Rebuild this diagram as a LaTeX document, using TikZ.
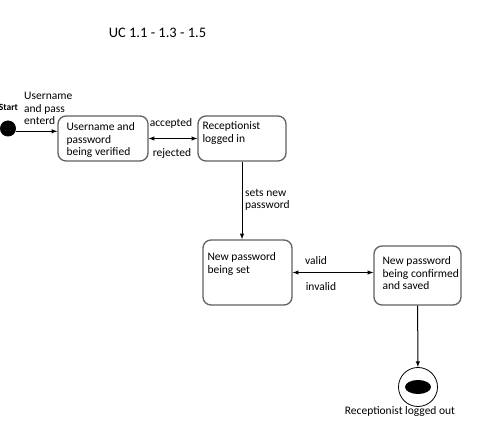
\documentclass[tikz,border=0pt]{standalone}
\usepackage{fontspec}
\setmainfont{Carlito}
\definecolor{BoxGrey}{gray}{0.38}
\usetikzlibrary{arrows,positioning,calc}

\begin{document}
\begin{tikzpicture}[x=1pt,y=1pt,>=latex,
		state/.style={draw=BoxGrey,line width=1.3pt,rounded corners=8pt,inner sep=0pt},
		txt/.style={font=\fontsize{11.5}{12.5}\selectfont,align=left,inner sep=0pt},
		trans/.style={->,line width=1pt}
	]
	\useasboundingbox (0,0) rectangle (491,-428);

	\node[font=\fontsize{14.5}{16}\selectfont] (title) at (157.5,-33) {UC 1.1 - 1.3 - 1.5};

	% start state
	\node[circle,fill=black,minimum size=16pt,inner sep=0pt] (start) at (8,-128.5) {};
	\node[font=\bfseries\fontsize{9.5}{10}\selectfont,inner sep=0pt] (startlbl) at (8.5,-107) {Start};
	\node[txt,anchor=north west] (enterd) at (24,-92) {Username\\and pass\\enterd};

	% states
	\node[state,minimum width=90pt,minimum height=45pt] (verify) at (103,-138.5) {};
	\node[txt,anchor=north west] (verifytxt) at ([xshift=9pt,yshift=-7pt]verify.north west) {Username and\\password\\being verified};
	\node[state,minimum width=88pt,minimum height=45pt] (logged) at (242,-138.5) {};
	\node[txt,anchor=north west] (loggedtxt) at ([xshift=5pt,yshift=-6pt]logged.north west) {Receptionist\\logged in};
	\node[state,minimum width=89pt,minimum height=65pt] (newpw) at (247.5,-272.5) {};
	\node[txt,anchor=north west] (newpwtxt) at ([xshift=5pt,yshift=-13pt]newpw.north west) {New password\\being set};
	\node[state,minimum width=87pt,minimum height=59pt] (confirm) at (417.5,-275.5) {};
	\node[txt,anchor=north west] (confirmtxt) at ([xshift=9pt,yshift=-11pt]confirm.north west) {New password\\being confirmed\\and saved};

	% final state
	\node[circle,draw,line width=0.8pt,minimum size=39pt,inner sep=0pt] (final) at (418,-387) {};
	\fill (final) ellipse (13 and 7);
	\node[font=\fontsize{11.5}{12}\selectfont] (finallbl) at (400,-411) {Receptionist logged out};

	% transitions
	\draw[trans] (start.-20) -- (start.-20 -| verify.west);
	\draw[trans,<->] (verify) -- (logged);
	\node[txt] (accepted) at (171,-123) {accepted};
	\node[txt] (rejected) at (172,-153) {rejected};
	\draw[trans] (logged.south) -- (logged.south |- newpw.north);
	\node[txt,anchor=north west] (setsnew) at (245,-189) {sets new\\password};
	\draw[trans,<->] (newpw.east) -- (newpw.east -| confirm.west);
	\node[txt] (valid) at (316,-261) {valid};
	\node[txt] (invalid) at (321,-287) {invalid};
	\draw[trans] (confirm) -- (final);
\end{tikzpicture}
\end{document}
